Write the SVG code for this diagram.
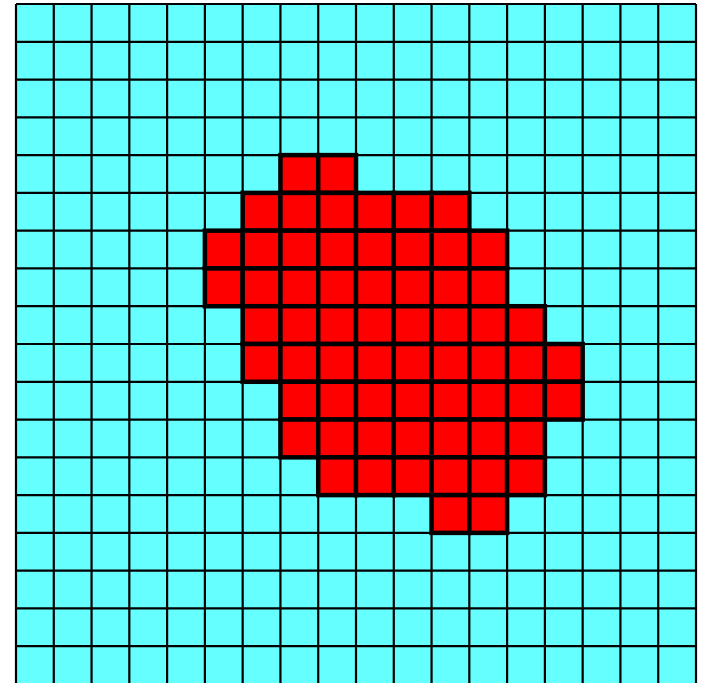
<svg xmlns="http://www.w3.org/2000/svg" width="701" height="683" viewBox="0 0 701 683">
<style>
.bg{fill:#66ffff;stroke:none}
.grid{fill:none;stroke:#000;stroke-width:2.2}
.red{fill:#ff0000;stroke:#000;stroke-width:4.5}
</style>
<defs><rect id="r" width="37.78" height="37.78" class="red"/></defs>
<rect class="bg" x="16" y="4" width="680" height="680"/>
<path class="grid" d="M16 4V684M53.78 4V684M91.56 4V684M129.33 4V684M167.11 4V684M204.89 4V684M242.67 4V684M280.44 4V684M318.22 4V684M356 4V684M393.78 4V684M431.56 4V684M469.33 4V684M507.11 4V684M544.89 4V684M582.67 4V684M620.44 4V684M658.22 4V684M696 4V684
M16 4H696M16 41.78H696M16 79.56H696M16 117.33H696M16 155.11H696M16 192.89H696M16 230.67H696M16 268.44H696M16 306.22H696M16 344H696M16 381.78H696M16 419.56H696M16 457.33H696M16 495.11H696M16 532.89H696M16 570.67H696M16 608.44H696M16 646.22H696"/>
<g id="red-region">
<use href="#r" x="280.44" y="155.11"/><use href="#r" x="318.22" y="155.11"/>
<use href="#r" x="242.67" y="192.89"/><use href="#r" x="280.44" y="192.89"/><use href="#r" x="318.22" y="192.89"/><use href="#r" x="356" y="192.89"/><use href="#r" x="393.78" y="192.89"/><use href="#r" x="431.56" y="192.89"/>
<use href="#r" x="204.89" y="230.67"/><use href="#r" x="242.67" y="230.67"/><use href="#r" x="280.44" y="230.67"/><use href="#r" x="318.22" y="230.67"/><use href="#r" x="356" y="230.67"/><use href="#r" x="393.78" y="230.67"/><use href="#r" x="431.56" y="230.67"/><use href="#r" x="469.33" y="230.67"/>
<use href="#r" x="204.89" y="268.44"/><use href="#r" x="242.67" y="268.44"/><use href="#r" x="280.44" y="268.44"/><use href="#r" x="318.22" y="268.44"/><use href="#r" x="356" y="268.44"/><use href="#r" x="393.78" y="268.44"/><use href="#r" x="431.56" y="268.44"/><use href="#r" x="469.33" y="268.44"/>
<use href="#r" x="242.67" y="306.22"/><use href="#r" x="280.44" y="306.22"/><use href="#r" x="318.22" y="306.22"/><use href="#r" x="356" y="306.22"/><use href="#r" x="393.78" y="306.22"/><use href="#r" x="431.56" y="306.22"/><use href="#r" x="469.33" y="306.22"/><use href="#r" x="507.11" y="306.22"/>
<use href="#r" x="242.67" y="344"/><use href="#r" x="280.44" y="344"/><use href="#r" x="318.22" y="344"/><use href="#r" x="356" y="344"/><use href="#r" x="393.78" y="344"/><use href="#r" x="431.56" y="344"/><use href="#r" x="469.33" y="344"/><use href="#r" x="507.11" y="344"/><use href="#r" x="544.89" y="344"/>
<use href="#r" x="280.44" y="381.78"/><use href="#r" x="318.22" y="381.78"/><use href="#r" x="356" y="381.78"/><use href="#r" x="393.78" y="381.78"/><use href="#r" x="431.56" y="381.78"/><use href="#r" x="469.33" y="381.78"/><use href="#r" x="507.11" y="381.78"/><use href="#r" x="544.89" y="381.78"/>
<use href="#r" x="280.44" y="419.56"/><use href="#r" x="318.22" y="419.56"/><use href="#r" x="356" y="419.56"/><use href="#r" x="393.78" y="419.56"/><use href="#r" x="431.56" y="419.56"/><use href="#r" x="469.33" y="419.56"/><use href="#r" x="507.11" y="419.56"/>
<use href="#r" x="318.22" y="457.33"/><use href="#r" x="356" y="457.33"/><use href="#r" x="393.78" y="457.33"/><use href="#r" x="431.56" y="457.33"/><use href="#r" x="469.33" y="457.33"/><use href="#r" x="507.11" y="457.33"/>
<use href="#r" x="431.56" y="495.11"/><use href="#r" x="469.33" y="495.11"/>
</g>
</svg>
